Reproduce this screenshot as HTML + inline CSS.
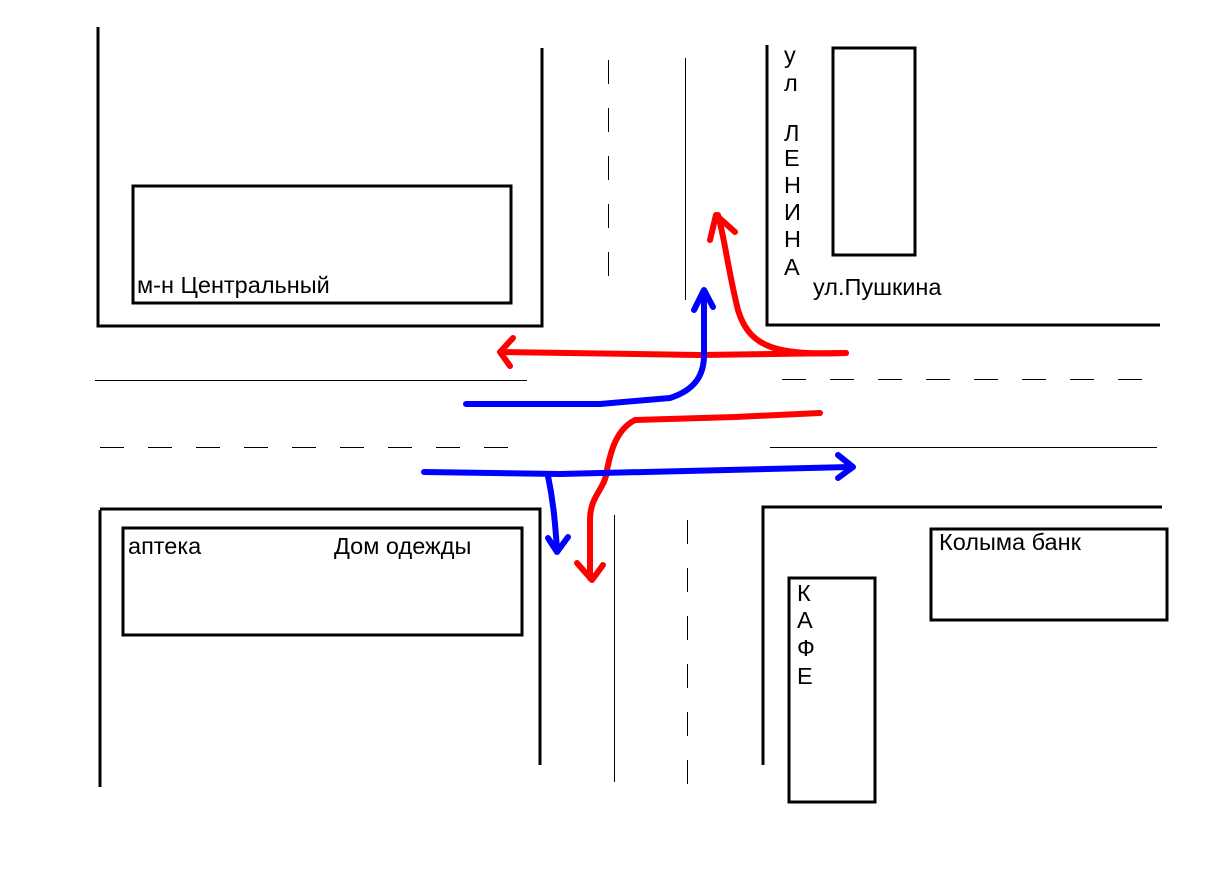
<!DOCTYPE html>
<html><head><meta charset="utf-8"><style>
html,body{margin:0;padding:0;background:#fff;}
svg{display:block}
text{font-family:"Liberation Sans",sans-serif;font-size:23.5px;fill:#000}
</style></head><body>
<svg width="1213" height="877" viewBox="0 0 1213 877">
<g stroke="#000" stroke-width="3" fill="none">
<polyline points="98,27 98,326 542,326 542,48"/>
<polyline points="767,45 767,325 1160,325"/>
<polyline points="100,510 100,787"/>
<polyline points="100,509 540,509 540,765"/>
<polyline points="763,765 763,507 1162,507"/>
<rect x="133" y="186" width="378" height="117"/>
<rect x="833" y="48" width="82" height="207"/>
<rect x="123" y="528" width="399" height="107"/>
<rect x="931" y="529" width="236" height="91"/>
<rect x="789" y="578" width="86" height="224"/>
</g>
<g stroke="#000" stroke-width="1" fill="none">
<line x1="685.5" y1="58" x2="685.5" y2="300"/>
<line x1="95" y1="380.5" x2="527" y2="380.5"/>
<line x1="770" y1="447.5" x2="1157" y2="447.5"/>
<line x1="614.5" y1="515" x2="614.5" y2="782"/>
<g stroke-dasharray="24,24">
<line x1="608.5" y1="60" x2="608.5" y2="292"/>
<line x1="100" y1="447.5" x2="525" y2="447.5"/>
<line x1="782" y1="379.5" x2="1165" y2="379.5"/>
<line x1="687.5" y1="520" x2="687.5" y2="792"/>
</g>
</g>
<g fill="none" stroke-width="6" stroke-linecap="round" stroke-linejoin="round">
<g stroke="#f00">
<path d="M846,353 L700,355 L503,352"/>
<path d="M513,338 L500,352 L510,366"/>
<path d="M846,353 C780,355 750,350 738,310 C728,270 725,240 718,215"/>
<path d="M710,240 L716,215 L735,232"/>
<path d="M820,413 L735,417 L635,420 C615,430 610,455 607,470 C605,490 590,495 590,520 L590,578"/>
<path d="M577,563 L592,580 L603,565"/>
</g>
<g stroke="#00f">
<path d="M466,404 L600,404 L670,398 C695,390 704,375 704,355 L704,292"/>
<path d="M694,310 L704,290 L713,307"/>
<path d="M424,472 L560,474 L850,467"/>
<path d="M838,455 L853,467 L838,478"/>
<path d="M548,476 C553,500 555,520 557,550"/>
<path d="M548,538 L557,552 L568,537"/>
</g>
</g>
<text x="137" y="293">м-н Центральный</text>
<text x="784" y="63">у</text>
<text x="784" y="91">л</text>
<text x="784" y="141">Л</text>
<text x="784" y="166">Е</text>
<text x="784" y="193">Н</text>
<text x="784" y="220">И</text>
<text x="784" y="247">Н</text>
<text x="784" y="275">А</text>
<text x="813" y="295">ул.Пушкина</text>
<text x="128" y="554">аптека</text>
<text x="334" y="554">Дом одежды</text>
<text x="939" y="550">Колыма банк</text>
<text x="797" y="601">К</text>
<text x="797" y="628">А</text>
<text x="797" y="656">Ф</text>
<text x="797" y="684">Е</text>
</svg>
</body></html>
